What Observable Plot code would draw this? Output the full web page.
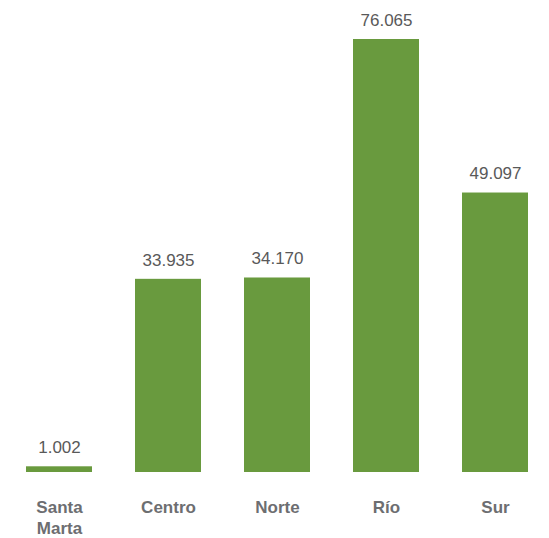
<!DOCTYPE html>
<html><head><meta charset="utf-8">
<script src="https://cdn.jsdelivr.net/npm/d3@7"></script>
<script src="https://cdn.jsdelivr.net/npm/@observablehq/plot@0.6"></script>
<style>body{margin:0;background:#fff;overflow:hidden;}</style>
</head><body><div id="chart"></div>
<script>
const categories = ["Santa Marta", "Centro", "Norte", "Río", "Sur"];
const values = [1002, 33935, 34170, 76065, 49097];

const data = categories.map((c, i) => ({cat: c, value: values[i]}));
const fmt = d3.formatLocale({decimal: ",", thousands: ".", grouping: [3], currency: ["$", ""]}).format(",d");
const font = "'Liberation Sans Narrow', 'Arial Narrow', 'Liberation Sans', Arial, sans-serif";

const chart = Plot.plot({
  width: 549,
  height: 538,
  marginTop: 39,
  marginBottom: 66,
  marginLeft: 0,
  marginRight: 0,
  style: {fontFamily: font, background: "#fff"},
  x: {domain: categories, range: [3, 550], paddingInner: 0.396, paddingOuter: 0.198, label: null},
  y: {domain: [0, 76065], axis: null},
  marks: [
    Plot.barY(data, {x: "cat", y: "value", fill: "#699a3e"}),
    Plot.ruleY([0], {stroke: "#a6a6a6", strokeWidth: 2, x1: 10, x2: 549}),
    Plot.text(data, {x: "cat", y: "value", text: d => fmt(d.value), dy: -19, fill: "#595959", fontSize: 17}),
    Plot.axisX({tickSize: 0, tickPadding: 26, fontSize: 17, fontWeight: "bold", fill: "#6d6e71", lineHeight: 1.22,
      tickFormat: d => d === "Santa Marta" ? "Santa\nMarta" : d, label: null})
  ]
});
document.getElementById("chart").appendChild(chart);
</script></body></html>
